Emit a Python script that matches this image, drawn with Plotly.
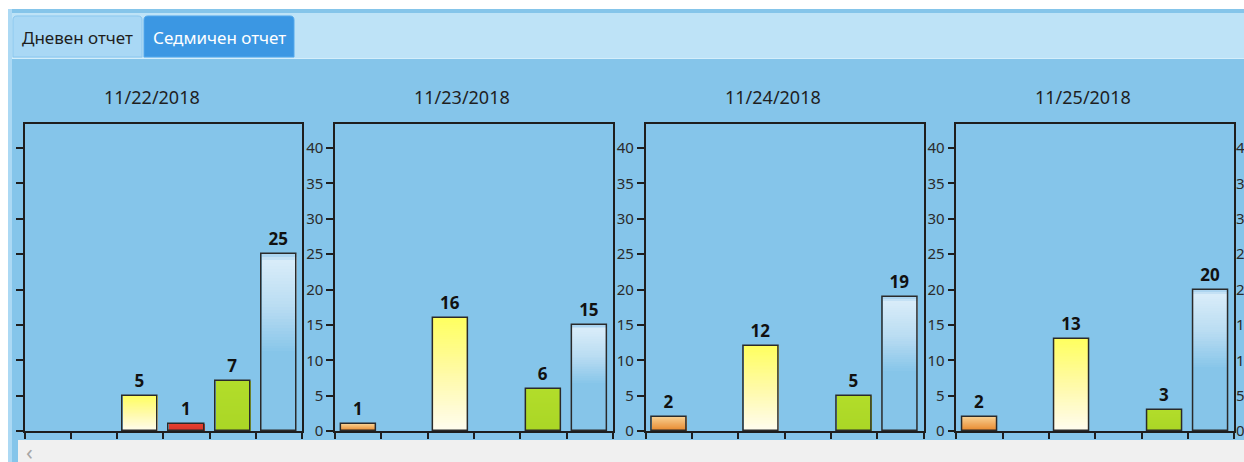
import plotly.graph_objects as go

# Canvas size in pixels
W, H = 1244, 462

# ---- data -------------------------------------------------------------
dates = ["11/22/2018", "11/23/2018", "11/24/2018", "11/25/2018"]
categories = [0, 1, 2, 3, 4, 5]
counts_1122 = [0, 0, 5, 1, 7, 25]
counts_1123 = [1, 0, 16, 0, 6, 15]
counts_1124 = [2, 0, 12, 0, 5, 19]
counts_1125 = [2, 0, 13, 0, 3, 20]
daily_counts = [counts_1122, counts_1123, counts_1124, counts_1125]
y_ticks = [0, 5, 10, 15, 20, 25, 30, 35, 40]
tab_labels = ["Дневен отчет", "Седмичен отчет"]

# ---- styling ----------------------------------------------------------
FONT = "Noto Sans"
BG_BLUE = "#85c5ea"
TAB_BAR = "#bee3f7"
FRAME = "#1e1e1e"
Y_MAX = 43.4

# vertical gradients per category: (fraction from bar top, colour)
FILLS = [
    [(0.0, "#f8cf90"), (1.0, "#e7862a")],
    [(0.0, "#cccccc"), (1.0, "#cccccc")],
    [(0.0, "#ffff60"), (0.5, "#fffaa8"), (1.0, "#fffcf0")],
    [(0.0, "#e5402f"), (1.0, "#d8332a")],
    [(0.0, "#b2dd2a"), (1.0, "#aad626")],
    [(0.0, "#a2cfee"), (0.04, "#d8ecf9"), (0.3, "#b9dcf2"),
     (0.56, "#86c5e9"), (1.0, "#86c5e9")],
]
N_STEPS = 60

# panel geometry (pixels)
PANEL_LEFT0 = 24.5
PANEL_STEP = 310.6
PANEL_W = 277.8
PLOT_TOP, PLOT_BOTTOM = 124, 431


def px(x):
    return x / W


def py(y):
    return 1 - y / H


def hex_rgb(h):
    h = h.lstrip("#")
    return tuple(int(h[i:i + 2], 16) for i in (0, 2, 4))


def grad(stops, t):
    for (t0, c0), (t1, c1) in zip(stops[:-1], stops[1:]):
        if t <= t1:
            f = 0 if t1 == t0 else (t - t0) / (t1 - t0)
            a, b = hex_rgb(c0), hex_rgb(c1)
            return "rgb(%d,%d,%d)" % tuple(round(a[i] + (b[i] - a[i]) * f) for i in range(3))
    r = hex_rgb(stops[-1][1])
    return "rgb(%d,%d,%d)" % r


def rounded_rect(x0, y0, x1, y1, r):
    pts = [
        ("M", x0 + r, y0), ("L", x1 - r, y0), ("Q", x1, y0, x1, y0 + r),
        ("L", x1, y1), ("L", x0, y1), ("L", x0, y0 + r), ("Q", x0, y0, x0 + r, y0),
    ]
    out = []
    for p in pts:
        cmd, coords = p[0], p[1:]
        conv = []
        for i in range(0, len(coords), 2):
            conv.append("%.5f,%.5f" % (px(coords[i]), py(coords[i + 1])))
        out.append(cmd + " " + " ".join(conv))
    return " ".join(out) + " Z"


fig = go.Figure()

bar_w = 0.76
for i, vals in enumerate(daily_counts):
    ax = "" if i == 0 else str(i + 1)
    # gradient fill: nested bars from tallest to shortest
    xs, ys, cols = [], [], []
    for k in range(N_STEPS):
        for c, v in zip(categories, vals):
            if v <= 0:
                continue
            xs.append(c)
            ys.append(v * (1 - k / N_STEPS))
            cols.append(grad(FILLS[c], (k + 0.5) / N_STEPS))
    fig.add_trace(go.Bar(
        x=xs, y=ys, width=bar_w, marker=dict(color=cols, line=dict(width=0)),
        xaxis="x" + ax, yaxis="y" + ax, hoverinfo="skip", showlegend=False,
    ))
    # outline + value label
    fig.add_trace(go.Bar(
        x=categories, y=[v if v > 0 else None for v in vals], width=bar_w,
        marker=dict(color="rgba(0,0,0,0)", line=dict(color="#2a2a2a", width=1.5)),
        text=[str(v) if v > 0 else "" for v in vals], textposition="outside",
        textfont=dict(family=FONT, size=17, color="#111111", weight="bold"),
        cliponaxis=False, xaxis="x" + ax, yaxis="y" + ax, showlegend=False,
    ))

# next (partially visible) panel: only the start of its value axis shows
fig.add_trace(go.Bar(x=[0], y=[0], xaxis="x5", yaxis="y5", showlegend=False,
                     marker=dict(color="rgba(0,0,0,0)"), hoverinfo="skip"))

layout = dict(
    width=W, height=H, margin=dict(l=0, r=0, t=0, b=0),
    paper_bgcolor="white", plot_bgcolor="rgba(0,0,0,0)",
    barmode="overlay", bargap=0, showlegend=False,
    font=dict(family=FONT, color="#2b2b2b"),
)

y_dom = [py(PLOT_BOTTOM), py(PLOT_TOP)]
for i in range(4):
    ax = "" if i == 0 else str(i + 1)
    left = PANEL_LEFT0 + PANEL_STEP * i
    layout["xaxis" + ax] = dict(
        domain=[px(left), px(left + PANEL_W)], anchor="y" + ax,
        range=[-0.5, 5.5], tickvals=[c - 0.5 for c in categories] + [5.5],
        showticklabels=False, ticks="outside", ticklen=6, tickwidth=1.5,
        tickcolor=FRAME, showline=True, linecolor=FRAME, linewidth=1.5,
        mirror=True, showgrid=False, zeroline=False, fixedrange=True,
        automargin=False,
    )
    layout["yaxis" + ax] = dict(
        domain=y_dom, anchor="x" + ax, range=[0, Y_MAX], tickvals=y_ticks,
        ticks="outside", ticklen=7, tickwidth=1.5, tickcolor=FRAME,
        showticklabels=(i > 0),
        tickfont=dict(family=FONT, size=15, color="#2b2b2b"),
        showline=True, linecolor=FRAME, linewidth=1.5, mirror=True,
        showgrid=False, zeroline=False, fixedrange=True, automargin=False,
    )

layout["xaxis5"] = dict(domain=[0.998, 1.0], anchor="y5", visible=False,
                        range=[-0.5, 5.5])
layout["yaxis5"] = dict(
    domain=y_dom, anchor="free", position=px(1235), side="right",
    range=[0, Y_MAX], tickvals=y_ticks, ticks="", showline=False,
    showgrid=False, zeroline=False,
    tickfont=dict(family=FONT, size=15, color="#2b2b2b"), automargin=False,
)

shapes = [
    # outer frame of the tab control
    dict(type="rect", xref="paper", yref="paper", x0=px(8), x1=px(W), y0=py(H), y1=py(9),
         fillcolor="#acd9f4", line=dict(width=0), layer="below"),
    dict(type="rect", xref="paper", yref="paper", x0=px(12), x1=px(W), y0=py(H), y1=py(9),
         fillcolor=BG_BLUE, line=dict(width=0), layer="below"),
    # tab strip
    dict(type="rect", xref="paper", yref="paper", x0=px(12), x1=px(W), y0=py(58), y1=py(13),
         fillcolor=TAB_BAR, line=dict(width=0), layer="below"),
    dict(type="rect", xref="paper", yref="paper", x0=px(12), x1=px(W), y0=py(59), y1=py(58),
         fillcolor="#d4eefb", line=dict(width=0), layer="below"),
    # tabs
    dict(type="path", xref="paper", yref="paper", path=rounded_rect(13, 16, 142, 57, 4),
         fillcolor="#a9d8f5", line=dict(color="#8bc7ee", width=1), layer="below"),
    dict(type="path", xref="paper", yref="paper", path=rounded_rect(144, 16, 294, 57, 4),
         fillcolor="#3b97e3", line=dict(color="#52a8ec", width=1), layer="below"),
    # horizontal scroll bar
    dict(type="rect", xref="paper", yref="paper", x0=px(18), x1=px(W), y0=py(H), y1=py(440),
         fillcolor="#f0f0f0", line=dict(width=0), layer="above"),
]
layout["shapes"] = shapes


def label(text, x, y, size, color, weight="normal"):
    return dict(text=text, x=px(x), y=py(y), xref="paper", yref="paper",
                xanchor="center", yanchor="middle", showarrow=False,
                font=dict(family=FONT, size=size, color=color, weight=weight))


annotations = [
    label(tab_labels[0], 77, 38, 17, "#1e1e1e"),
    label(tab_labels[1], 219, 38, 17, "white"),
    label("‹", 29, 451, 22, "#a6a6a6"),
]
for i, d in enumerate(dates):
    left = PANEL_LEFT0 + PANEL_STEP * i
    annotations.append(label(d, left + 127, 97, 18, "#1f1f1f"))
layout["annotations"] = annotations

fig.update_layout(**layout)
fig.write_html("out.html")
